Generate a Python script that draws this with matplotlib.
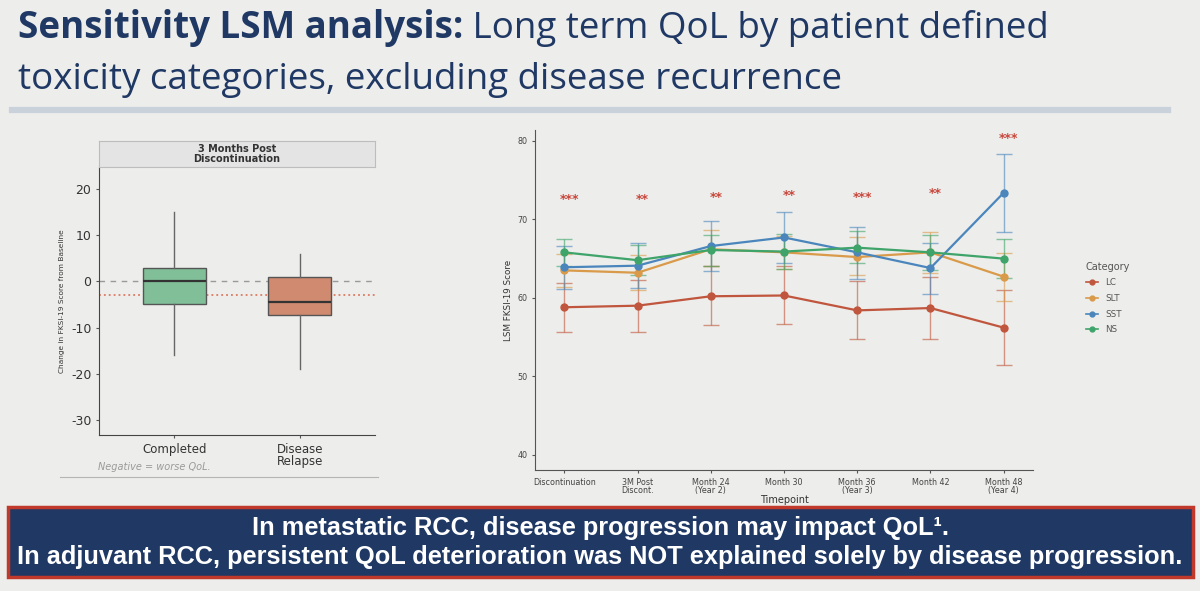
import matplotlib
matplotlib.use("Agg")
import matplotlib.pyplot as plt
from matplotlib.lines import Line2D
from matplotlib.patches import Rectangle

plt.rcParams["axes.unicode_minus"] = False

# ---- data ----
box_groups = ["Completed", "Disease\nRelapse"]
box_whislo = [-16, -19]
box_q1 = [-5, -7.2]
box_med = [0, -4.5]
box_q3 = [3, 1]
box_whishi = [15, 6]
box_colors = ["#80BF98", "#CF8A6F"]
ref_zero = 0
ref_mean = -3

timepoints = ["Discontinuation", "3M Post\nDiscont.", "Month 24\n(Year 2)", "Month 30",
              "Month 36\n(Year 3)", "Month 42", "Month 48\n(Year 4)"]
categories = ["LC", "SLT", "SST", "NS"]
lc_mean = [58.8, 59.0, 60.2, 60.3, 58.4, 58.7, 56.2]
lc_lo = [55.6, 55.7, 56.6, 56.7, 54.8, 54.8, 51.4]
lc_hi = [61.9, 62.3, 64.0, 64.0, 62.1, 62.7, 61.0]
slt_mean = [63.5, 63.2, 66.2, 65.8, 65.2, 65.8, 62.7]
slt_lo = [61.4, 61.0, 64.0, 63.7, 62.9, 63.2, 59.6]
slt_hi = [65.6, 65.4, 68.6, 67.9, 67.7, 68.35, 65.7]
sst_mean = [63.9, 64.1, 66.6, 67.7, 65.8, 63.8, 73.4]
sst_lo = [61.1, 61.2, 63.4, 64.4, 62.4, 60.5, 68.4]
sst_hi = [66.6, 67.0, 69.8, 71.0, 69.0, 67.0, 78.4]
ns_mean = [65.8, 64.8, 66.1, 65.9, 66.4, 65.8, 65.0]
ns_lo = [64.1, 62.9, 64.1, 63.7, 64.5, 63.5, 62.5]
ns_hi = [67.5, 66.7, 68.0, 68.2, 68.5, 68.0, 67.5]
cat_colors = ["#C0563D", "#D99A4A", "#4A86BC", "#3FA46A"]
stars = ["***", "**", "**", "**", "***", "**", "***"]
star_y = [72.5, 72.5, 72.8, 73.1, 72.8, 73.3, 80.3]

title_bold = "Sensitivity LSM analysis:"
title_rest = " Long term QoL by patient defined"
title_line2 = "toxicity categories, excluding disease recurrence"
banner1 = "In metastatic RCC, disease progression may impact QoL¹."
banner2 = "In adjuvant RCC, persistent QoL deterioration was NOT explained solely by disease progression."

BG = "#EDEDEB"
NAVY = "#1F3864"
W, H = 1200, 591


def fx(x):
    return x / W


def fy(y):
    return 1 - y / H


fig = plt.figure(figsize=(12, 5.91), dpi=100, facecolor=BG)
renderer = fig.canvas.get_renderer()


def fit_text(x, y, s, width, size, **kw):
    t = fig.text(fx(x), fy(y), s, fontsize=size, **kw)
    w = t.get_window_extent(renderer).width
    t.set_fontsize(size * width / w)
    return t


# ---- title ----
TFONT = "Open Sans"
t1 = fig.text(fx(18), fy(38), title_bold, fontsize=20, fontweight="bold",
              family=TFONT, color=NAVY, va="baseline")
t2 = fig.text(0, fy(38), title_rest, fontsize=20, family=TFONT, color=NAVY, va="baseline")
w1 = t1.get_window_extent(renderer).width
w2 = t2.get_window_extent(renderer).width
scale = (1050 - 18) / (w1 + w2)
t1.set_fontsize(20 * scale)
t2.set_fontsize(20 * scale)
w1 = t1.get_window_extent(renderer).width
t2.set_x(fx(18 + w1))
fig.text(fx(18), fy(89), title_line2, fontsize=20 * scale, family=TFONT,
         color=NAVY, va="baseline")
fig.add_artist(Line2D([fx(12), fx(1168)], [fy(110), fy(110)], color="#C9D1DA", lw=4.5))

# ---- left: box plot ----
axb = fig.add_axes([fx(99), fy(435), fx(375) - fx(99), fy(167) - fy(435)])
axb.set_facecolor(BG)
stats = []
for i in range(len(box_groups)):
    stats.append(dict(whislo=box_whislo[i], q1=box_q1[i], med=box_med[i],
                      q3=box_q3[i], whishi=box_whishi[i], fliers=[]))
axb.axhline(ref_zero, color="#9A9A9A", lw=1, ls=(0, (4, 4)), zorder=1)
axb.axhline(ref_mean, color="#D9664A", lw=1.1, ls=(0, (1.2, 2)), zorder=1)
bp = axb.bxp(stats, positions=[1, 2], widths=0.5, patch_artist=True, showcaps=False,
             boxprops=dict(edgecolor="#555555", lw=1),
             whiskerprops=dict(color="#666666", lw=1),
             medianprops=dict(color="#333333", lw=1.6), zorder=2)
for patch, c in zip(bp["boxes"], box_colors):
    patch.set_facecolor(c)
axb.set_xlim(0.4, 2.6)
axb.set_ylim(-33.3, 24.8)
axb.set_yticks([-30, -20, -10, 0, 10, 20])
axb.set_xticks([1, 2])
axb.set_xticklabels(box_groups, fontsize=8.5, color="#333333", linespacing=0.95)
axb.tick_params(axis="y", labelsize=9, labelcolor="#333333", length=2, color="#555555")
axb.tick_params(axis="x", length=2, color="#555555")
for s in ["top", "right"]:
    axb.spines[s].set_visible(False)
for s in ["left", "bottom"]:
    axb.spines[s].set_color("#444444")
axb.set_ylabel("Change in FKSI-19 Score from Baseline", fontsize=5.3, color="#333333", labelpad=4)
strip = fig.add_axes([fx(99), fy(167), fx(375) - fx(99), fy(141) - fy(167)])
strip.set_facecolor("#E4E4E4")
strip.set_xticks([])
strip.set_yticks([])
for s in strip.spines.values():
    s.set_color("#BDBDBD")
strip.text(0.5, 0.5, "3 Months Post\nDiscontinuation", ha="center", va="center",
           fontsize=7, fontweight="bold", color="#333333", linespacing=1.0)
fig.text(fx(98), fy(467), "Negative = worse QoL.", fontsize=7, style="italic",
         color="#9A9A9A", va="center")
fig.add_artist(Line2D([fx(60), fx(378)], [fy(477), fy(477)], color="#B5B5B5", lw=0.8))

# ---- right: LSM lines ----
axl = fig.add_axes([fx(535), fy(470), fx(1033) - fx(535), fy(130) - fy(470)])
axl.set_facecolor(BG)
xs = list(range(1, len(timepoints) + 1))
series = [(lc_mean, lc_lo, lc_hi), (slt_mean, slt_lo, slt_hi),
          (sst_mean, sst_lo, sst_hi), (ns_mean, ns_lo, ns_hi)]
handles = []
for (m, lo, hi), c, name in zip(series, cat_colors, categories):
    err = [[a - b for a, b in zip(m, lo)], [b - a for a, b in zip(m, hi)]]
    axl.errorbar(xs, m, yerr=err, fmt="none", ecolor=c, elinewidth=1, capsize=6,
                 capthick=1, alpha=0.6, zorder=2)
    axl.plot(xs, m, color=c, lw=1.6, marker="o", ms=5, zorder=3)
    handles.append(Line2D([], [], color=c, lw=1.2, marker="o", ms=3.5, label=name))
for x, s, y in zip(xs, stars, star_y):
    axl.text(x + 0.07, y, s, ha="center", va="center", fontsize=9,
             color="#C8463A", fontweight="bold")
axl.set_xlim(0.6, 7.4)
axl.set_ylim(38.05, 81.4)
axl.set_yticks([40, 50, 60, 70, 80])
axl.set_xticks(xs)
axl.set_xticklabels(timepoints, fontsize=5.8, color="#444444", linespacing=0.95)
axl.tick_params(axis="y", labelsize=5.8, labelcolor="#444444", length=2, color="#555555")
axl.tick_params(axis="x", length=2, color="#555555")
for s in ["top", "right"]:
    axl.spines[s].set_visible(False)
for s in ["left", "bottom"]:
    axl.spines[s].set_color("#555555")
axl.set_xlabel("Timepoint", fontsize=7, color="#333333", labelpad=0)
axl.set_ylabel("LSM FKSI-19 Score", fontsize=6.3, color="#333333", labelpad=3)
leg = fig.legend(handles=handles, loc="upper left", bbox_to_anchor=(fx(1078), fy(254)),
                 frameon=False, title="Category", fontsize=6.3, title_fontsize=7,
                 handlelength=1.4, labelspacing=0.75, alignment="left")
for txt in leg.get_texts():
    txt.set_color("#555555")
leg.get_title().set_color("#555555")

# ---- bottom banner ----
fig.add_artist(Rectangle((fx(8), fy(577)), fx(1193) - fx(8), fy(507) - fy(577),
                         facecolor=NAVY, edgecolor="#C0392B", lw=2.5))
b2 = fit_text(600, 557, banner2, 1168, 16, family="Liberation Sans", fontweight="bold",
              color="white", ha="center", va="center")
fig.text(fx(600), fy(528), banner1, fontsize=b2.get_fontsize(), family="Liberation Sans",
         fontweight="bold", color="white", ha="center", va="center")

fig.savefig("out.png", dpi=100, facecolor=BG)
